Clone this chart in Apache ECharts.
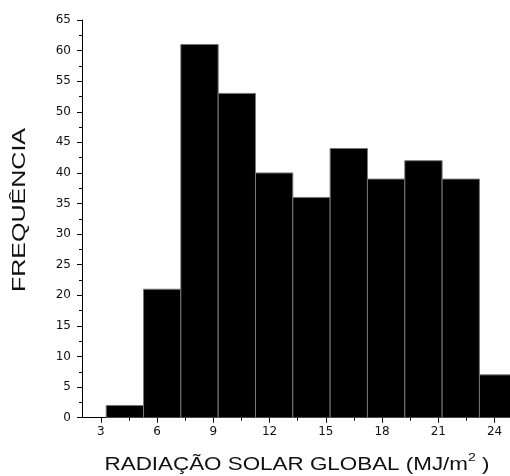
<!DOCTYPE html>
<html>
<head>
<meta charset="utf-8">
<script src="https://cdn.jsdelivr.net/npm/echarts@6/dist/echarts.min.js"></script>
<style>html,body{margin:0;padding:0;background:#fff}#c{width:510px;height:476px}</style>
</head>
<body>
<div id="c"></div>
<script>
// Histogram bin edges (MJ/m²) and frequencies
var binStarts = [3.29, 5.28, 7.27, 9.26, 11.25, 13.24, 15.23, 17.22, 19.21, 21.20, 23.19];
var binEnds   = [5.28, 7.27, 9.26, 11.25, 13.24, 15.23, 17.22, 19.21, 21.20, 23.19, 25.18];
var frequencies = [2, 21, 61, 53, 40, 36, 44, 39, 42, 39, 7];
var xTickLabels = [3, 6, 9, 12, 15, 18, 21, 24];
var xMinorTicks = [4.5, 7.5, 10.5, 13.5, 16.5, 19.5, 22.5];
var yTickLabels = [0, 5, 10, 15, 20, 25, 30, 35, 40, 45, 50, 55, 60, 65];
var xTitle = '{main|RADIAÇÃO SOLAR GLOBAL (MJ/m}{sup|2}{main| )}';
var yTitle = 'FREQUÊNCIA';

var data = frequencies.map(function (f, i) { return [binStarts[i], binEnds[i], f]; });

var chart = echarts.init(document.getElementById('c'), null, {renderer: 'canvas'});
var font = 'Liberation Sans, Arial, sans-serif';
var tickFont = 'DejaVu Sans, sans-serif';
chart.setOption({
  animation: false,
  grid: {left: 82, right: 0, top: 20, bottom: 58.3, containLabel: false},
  xAxis: [{
    type: 'value', min: 2, max: 24.82,
    position: 'bottom',
    splitLine: {show: false},
    axisLine: {lineStyle: {color: '#000', width: 1}},
    axisTick: {show: true, inside: false, length: 5, lineStyle: {color: '#000'}, customValues: xTickLabels},
    axisLabel: {customValues: xTickLabels, fontFamily: tickFont, fontSize: 12, color: '#111', margin: 8}
  }, {
    type: 'value', min: 2, max: 24.82,
    position: 'bottom',
    splitLine: {show: false},
    axisLine: {show: false},
    axisTick: {show: true, inside: false, length: 3, lineStyle: {color: '#000'}, customValues: xMinorTicks},
    axisLabel: {show: false}
  }],
  yAxis: {
    type: 'value', min: 0, max: 65, interval: 5,
    splitLine: {show: false},
    axisLine: {show: true, lineStyle: {color: '#000', width: 1}},
    axisTick: {show: true, inside: false, length: 5, lineStyle: {color: '#000'}},
    minorTick: {show: true, splitNumber: 2, length: 3, lineStyle: {color: '#000'}},
    axisLabel: {fontFamily: tickFont, fontSize: 12, color: '#111', margin: 11,
      formatter: function (v) { return yTickLabels.indexOf(v) >= 0 ? String(v) : ''; }}
  },
  graphic: [{
    type: 'text', x: 297, y: 463.5, scaleX: 1.28, silent: true,
    style: {
      text: xTitle, fontFamily: font, fontSize: 17.5, fill: '#111',
      align: 'center', verticalAlign: 'middle',
      rich: {
        main: {fontFamily: font, fontSize: 17.5, fill: '#111', lineHeight: 22, verticalAlign: 'bottom'},
        sup: {fontFamily: font, fontSize: 11, fill: '#111', lineHeight: 11, verticalAlign: 'top'}
      }
    }
  }, {
    type: 'text', x: 20, y: 210, rotation: Math.PI / 2, scaleX: 1.43, silent: true,
    style: {
      text: yTitle, fontFamily: font, fontSize: 17.5, fill: '#111',
      align: 'center', verticalAlign: 'middle'
    }
  }],
  series: [{
    type: 'custom',
    xAxisIndex: 0,
    clip: true,
    data: data,
    encode: {x: [0, 1], y: 2},
    renderItem: function (params, api) {
      var p0 = api.coord([api.value(0), 0]);
      var p1 = api.coord([api.value(1), api.value(2)]);
      return {
        type: 'rect',
        shape: {x: p0[0], y: p1[1], width: p1[0] - p0[0], height: p0[1] - p1[1]},
        style: {fill: '#000', stroke: '#777', lineWidth: 1}
      };
    }
  }]
});
</script>
</body>
</html>
